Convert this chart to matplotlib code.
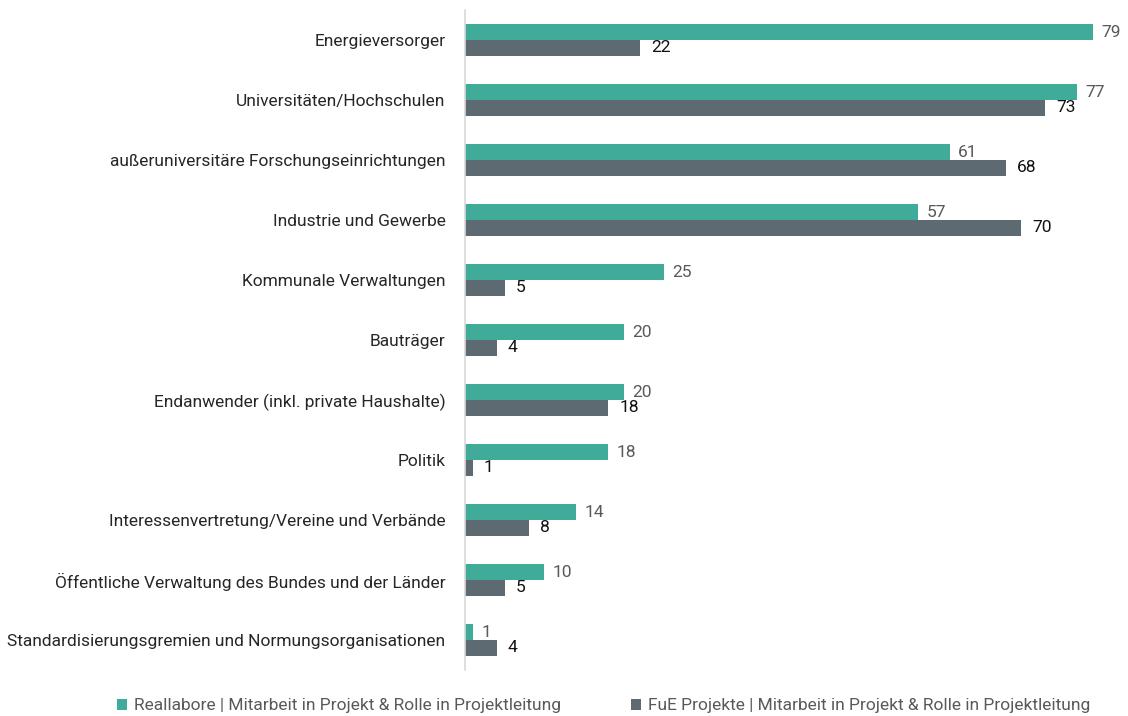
import matplotlib
matplotlib.use("Agg")
import matplotlib.pyplot as plt
import numpy as np

plt.rcParams['font.family'] = ['Roboto', 'DejaVu Sans']

categories = [
    "Energieversorger",
    "Universitäten/Hochschulen",
    "außeruniversitäre Forschungseinrichtungen",
    "Industrie und Gewerbe",
    "Kommunale Verwaltungen",
    "Bauträger",
    "Endanwender (inkl. private Haushalte)",
    "Politik",
    "Interessenvertretung/Vereine und Verbände",
    "Öffentliche Verwaltung des Bundes und der Länder",
    "Standardisierungsgremien und Normungsorganisationen",
]
reallabore = [79, 77, 61, 57, 25, 20, 20, 18, 14, 10, 1]
fue = [22, 73, 68, 70, 5, 4, 18, 1, 8, 5, 4]
series_labels = [
    "Reallabore | Mitarbeit in Projekt & Rolle in Projektleitung",
    "FuE Projekte | Mitarbeit in Projekt & Rolle in Projektleitung",
]

teal = '#41ab9a'
dark = '#5d6a72'

fig = plt.figure(figsize=(11.28, 7.16), dpi=100)
ax = fig.add_axes([465 / 1128, 46 / 716, (1120 - 465) / 1128, 660 / 716])

y = np.arange(len(categories))
h = 0.26
b1 = ax.barh(y - h / 2, reallabore, height=h, color=teal, label=series_labels[0])
b2 = ax.barh(y + h / 2, fue, height=h, color=dark, label=series_labels[1])

for rect, v in zip(b1, reallabore):
    ax.annotate(str(v), (rect.get_width(), rect.get_y() + rect.get_height() / 2),
                xytext=(6, 0), textcoords='offset points', va='center', ha='left',
                fontsize=12.5, color='#595959')
for rect, v in zip(b2, fue):
    ax.annotate(str(v), (rect.get_width(), rect.get_y() + rect.get_height() / 2),
                xytext=(8, 0), textcoords='offset points', va='center', ha='left',
                fontsize=12.5, color='#111111')

ax.set_ylim(len(categories) - 0.5, -0.5)
ax.set_xlim(0, 82.4)
ax.set_yticks(y)
ax.set_yticklabels(categories, fontsize=12.5, color='#262626')
ax.tick_params(axis='y', length=0, pad=14)
ax.set_xticks([])
for s in ['top', 'right', 'bottom']:
    ax.spines[s].set_visible(False)
ax.spines['left'].set_color('#d9d9d9')
ax.spines['left'].set_linewidth(1.2)

leg = fig.legend(handles=[b1, b2], labels=series_labels, loc='lower center',
                 bbox_to_anchor=(0.535, -0.018), ncol=2, frameon=False,
                 fontsize=12.5, handlelength=0.6, handleheight=0.6,
                 handletextpad=0.4, columnspacing=4.0)
for t in leg.get_texts():
    t.set_color('#595959')

fig.savefig('out.png', dpi=100)
